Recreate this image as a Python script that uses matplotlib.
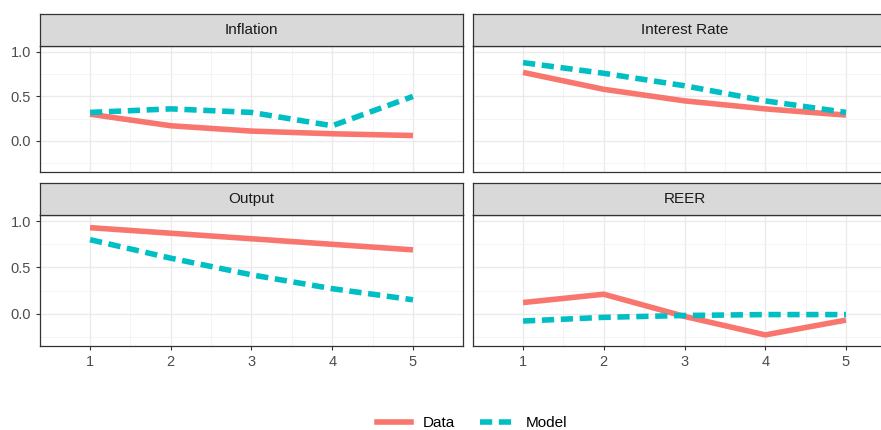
import matplotlib.pyplot as plt
from matplotlib.lines import Line2D

plt.rcParams["font.family"] = ["Liberation Sans", "DejaVu Sans"]

# ==========================================
# Data
# ==========================================

horizon = [1, 2, 3, 4, 5]
panels = ["Inflation", "Interest Rate", "Output", "REER"]

data_vals = {
    "Inflation": [0.30, 0.17, 0.11, 0.08, 0.06],
    "Interest Rate": [0.77, 0.58, 0.45, 0.36, 0.29],
    "Output": [0.93, 0.87, 0.81, 0.75, 0.69],
    "REER": [0.12, 0.21, -0.03, -0.23, -0.07],
}
model_vals = {
    "Inflation": [0.32, 0.36, 0.32, 0.17, 0.50],
    "Interest Rate": [0.88, 0.76, 0.62, 0.45, 0.32],
    "Output": [0.80, 0.60, 0.42, 0.27, 0.15],
    "REER": [-0.08, -0.04, -0.02, -0.01, -0.01],
}

RED = "#F8766D"
TEAL = "#00BFC4"

# ==========================================
# Figure
# ==========================================

W, H = 881, 430
fig = plt.figure(figsize=(W / 100, H / 100), dpi=100)

# pixel boxes: (strip top, plot top, plot bottom)
cols = [40, 473]
rows = [(14, 46, 172), (183, 215, 346)]
pw = 423

for i, name in enumerate(panels):
    r, c = divmod(i, 2)
    st, pt, pb = rows[r]
    x0 = cols[c]
    ax = fig.add_axes([x0 / W, 1 - pb / H, pw / W, (pb - pt) / H])
    sx = fig.add_axes([x0 / W, 1 - pt / H, pw / W, (pt - st) / H])

    ax.plot(horizon, data_vals[name], color=RED, lw=4.0, solid_capstyle="butt")
    ax.plot(horizon, model_vals[name], color=TEAL, lw=4.0, ls=(0, (2.2, 1.2)))

    ax.set_xlim(0.38, 5.62)
    ax.set_ylim(-0.35, 1.067)
    ax.set_yticks([0.0, 0.5, 1.0])
    ax.set_yticks([-0.25, 0.25, 0.75], minor=True)
    ax.set_xticks(horizon)
    ax.set_xticks([1.5, 2.5, 3.5, 4.5], minor=True)
    ax.grid(True, which="major", color="#EBEBEB", lw=1.0)
    ax.grid(True, which="minor", color="#F3F3F3", lw=0.6)
    ax.set_axisbelow(True)
    for s in ax.spines.values():
        s.set_color("#333333")
        s.set_linewidth(0.9)
    ax.tick_params(which="minor", length=0)
    ax.tick_params(which="major", length=3, color="#333333",
                   labelsize=10.5, labelcolor="#4D4D4D")
    if c == 1:
        ax.set_yticklabels([])
        ax.tick_params(axis="y", length=0)
    if r == 0:
        ax.set_xticklabels([])
        ax.tick_params(axis="x", length=0)

    sx.set_facecolor("#D9D9D9")
    sx.set_xticks([])
    sx.set_yticks([])
    for s in sx.spines.values():
        s.set_color("#333333")
        s.set_linewidth(0.9)
    sx.text(0.5, 0.5, name, ha="center", va="center", fontsize=11,
            color="#1A1A1A", transform=sx.transAxes)

# ==========================================
# Legend
# ==========================================

handles = [
    Line2D([], [], color=RED, lw=4.0),
    Line2D([], [], color=TEAL, lw=4.0, ls=(0, (2.2, 1.2))),
]
fig.legend(handles, ["Data", "Model"], loc="center", bbox_to_anchor=(472 / W, 1 - 423 / H),
           ncol=2, frameon=False, fontsize=11, handlelength=2.2, columnspacing=1.6)

fig.savefig("out.png", dpi=100)
